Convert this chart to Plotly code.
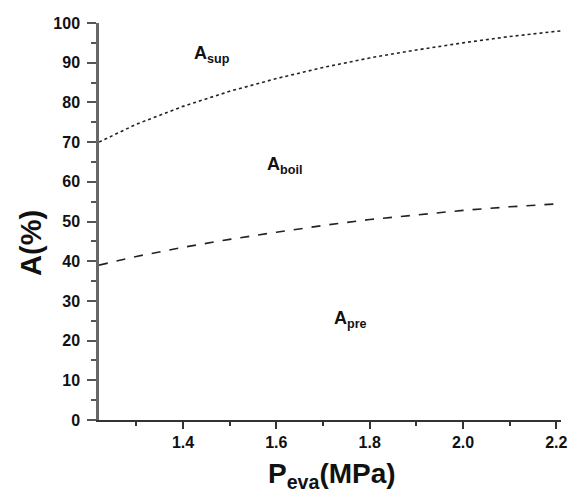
import plotly.graph_objects as go

p_vals = [1.22, 1.3, 1.4, 1.5, 1.6, 1.7, 1.8, 1.9, 2.0, 2.1, 2.2, 2.21]
a_sup_boundary = [70.0, 74.5, 79.0, 82.8, 86.0, 88.8, 91.2, 93.2, 95.0, 96.6, 97.9, 98.0]
a_pre_boundary = [39.0, 41.2, 43.5, 45.5, 47.3, 49.0, 50.5, 51.7, 52.8, 53.7, 54.4, 54.5]

region_labels = ["A<sub>sup</sub>", "A<sub>boil</sub>", "A<sub>pre</sub>"]
label_p = [1.463, 1.617, 1.759]
label_a = [92.0, 64.2, 25.2]

x_ticks = [1.4, 1.6, 1.8, 2.0, 2.2]
x_ticklabels = ["1.4", "1.6", "1.8", "2.0", "2.2"]
y_ticks = [0, 10, 20, 30, 40, 50, 60, 70, 80, 90, 100]

FONT = "Liberation Sans, Arial, sans-serif"

fig = go.Figure()
fig.add_trace(go.Scatter(x=p_vals, y=a_sup_boundary, mode="lines",
                         line=dict(color="#222", width=1.6, dash="dot"),
                         showlegend=False, hoverinfo="skip"))
fig.add_trace(go.Scatter(x=p_vals, y=a_pre_boundary, mode="lines",
                         line=dict(color="#222", width=1.6, dash="dash"),
                         showlegend=False, hoverinfo="skip"))

for t, px, py in zip(region_labels, label_p, label_a):
    fig.add_annotation(x=px, y=py, xref="x", yref="y", text="<b>" + t + "</b>",
                       showarrow=False, font=dict(family=FONT, size=18, color="#111"))

# x-axis title (subscript partly below the page edge, as in the reference)
fig.add_annotation(x=(335 - 99) / 468, y=-0.09, xref="paper", yref="paper",
                   text="<b>P<sub>eva</sub>(MPa)</b>", showarrow=False,
                   xanchor="center", yanchor="top",
                   font=dict(family=FONT, size=28, color="#111"))
# y-axis title
fig.add_annotation(x=(30 - 99) / 468, y=(420 - 243) / 397, xref="paper", yref="paper",
                   text="<b>A(%)</b>", showarrow=False, textangle=-90,
                   xanchor="center", yanchor="middle",
                   font=dict(family=FONT, size=29, color="#111"))

fig.update_layout(
    width=577, height=491,
    margin=dict(l=99, r=10, t=23, b=71),
    paper_bgcolor="white", plot_bgcolor="white",
    font=dict(family=FONT, color="#111"),
    xaxis=dict(range=[1.22, 2.21], tickvals=x_ticks, ticktext=["<b>%s</b>" % s for s in x_ticklabels],
               showgrid=False, zeroline=False, showline=True, linecolor="#333", linewidth=2,
               ticks="outside", ticklen=7, tickwidth=1.5, tickcolor="#333",
               minor=dict(tickvals=[1.3, 1.5, 1.7, 1.9, 2.1], ticks="outside", ticklen=4,
                          tickwidth=1.5, tickcolor="#333"),
               tickfont=dict(family=FONT, size=16, color="#111")),
    yaxis=dict(range=[0, 100], tickvals=y_ticks, ticktext=["<b>%d</b>" % v for v in y_ticks],
               showgrid=False, zeroline=False, showline=True, linecolor="#666", linewidth=2.5,
               ticks="outside", ticklen=9, tickwidth=1.5, tickcolor="#555",
               minor=dict(tickvals=[5, 15, 25, 35, 45, 55, 65, 75, 85, 95], ticks="outside",
                          ticklen=5, tickwidth=1.5, tickcolor="#555"),
               ticklabelstandoff=4,
               tickfont=dict(family=FONT, size=16, color="#111")),
)

fig.write_html("out.html")
